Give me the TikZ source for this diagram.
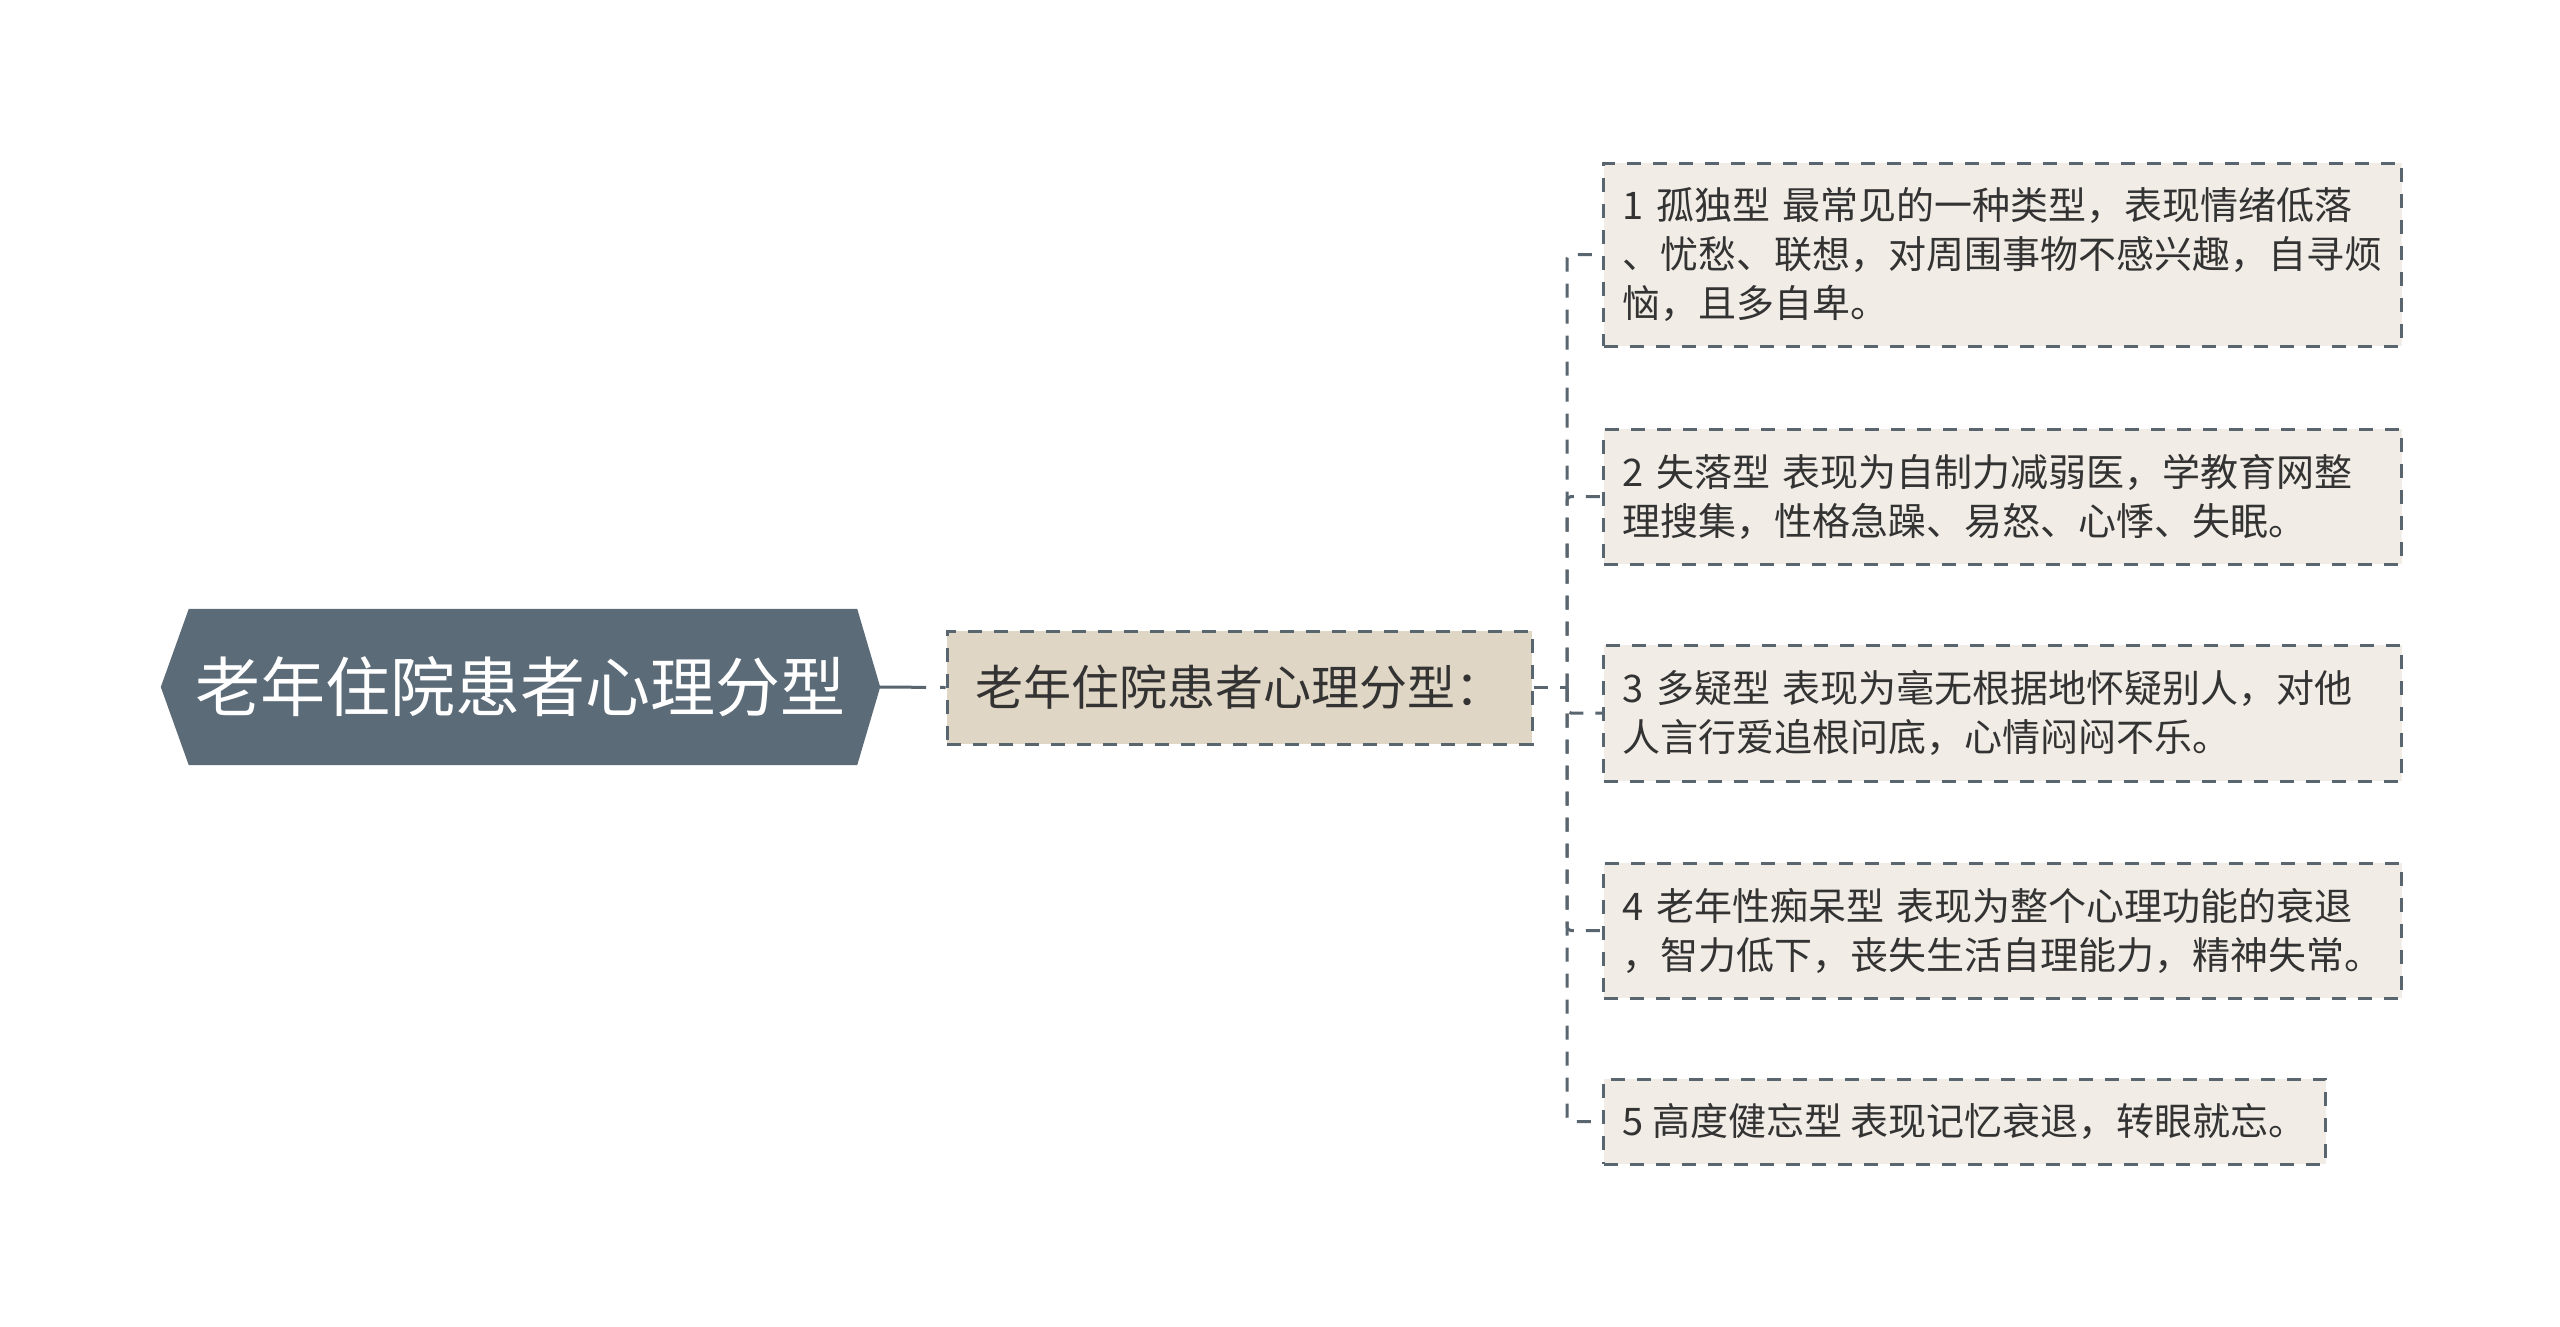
\documentclass[tikz,border=0pt]{standalone}
\usepackage{fontspec}
\newfontfamily\cjkf{Noto Sans CJK SC}
\definecolor{rootfill}{HTML}{5B6B78}
\definecolor{linec}{HTML}{59656F}
\definecolor{subfill}{HTML}{E0D6C5}
\definecolor{leaffill}{HTML}{F1EDE6}
\definecolor{txt}{HTML}{333333}
\begin{document}
\begin{tikzpicture}[x=1pt,y=-1pt,
  rootbox/.style={draw=none, inner sep=0pt, minimum width=719pt, minimum height=156pt,
    text=white, font=\cjkf\fontsize{65pt}{78pt}\selectfont},
  subbox/.style={draw=linec, line width=3pt, dash pattern=on 14pt off 12pt, fill=subfill,
    inner sep=0pt, minimum width=585pt, minimum height=113pt,
    text=txt, font=\cjkf\fontsize{48pt}{58pt}\selectfont},
  leafbox/.style={draw=linec, line width=3pt, dash pattern=on 14pt off 12pt, fill=leaffill,
    inner xsep=19pt, inner ysep=0pt, align=left, anchor=west,
    text=txt, font=\cjkf\fontsize{38pt}{49pt}\selectfont},
  wide/.style={text width=760pt},
  conn/.style={draw=linec, line width=3pt, dash pattern=on 14pt off 12pt, rounded corners=4pt},
]
\useasboundingbox (0,0) rectangle (2560,1326);
\fill[white] (0,0) rectangle (2560,1326);

% root
\node[rootbox] (root) at (520.5,687) {};
\fill[rootfill] (root.west) -- ([xshift=28pt]root.north west) -- ([xshift=-23pt]root.north east)
  -- (root.east) -- ([xshift=-23pt]root.south east) -- ([xshift=28pt]root.south west) -- cycle;
\node[rootbox] (roottext) at (root.center) {老年住院患者心理分型};

% sub
\node[subbox] (sub) at (1239.5,687.5) {老年住院患者心理分型：};

% leaves
\node[leafbox, wide, minimum height=183pt] (l1) at (1602,254.5)
  {1 孤独型 最常见的一种类型，表现情绪低落\\、忧愁、联想，对周围事物不感兴趣，自寻烦\\恼，且多自卑。};
\node[leafbox, wide, minimum height=135pt] (l2) at (1602,496.5)
  {2 失落型 表现为自制力减弱医，学教育网整\\理搜集，性格急躁、易怒、心悸、失眠。};
\node[leafbox, wide, minimum height=136pt] (l3) at (1602,713)
  {3 多疑型 表现为毫无根据地怀疑别人，对他\\人言行爱追根问底，心情闷闷不乐。};
\node[leafbox, wide, minimum height=135pt] (l4) at (1602,930.5)
  {4 老年性痴呆型 表现为整个心理功能的衰退\\，智力低下，丧失生活自理能力，精神失常。};
\node[leafbox, minimum height=85pt] (l5) at (1602,1121.5)
  {5 高度健忘型 表现记忆衰退，转眼就忘。};

% connectors
\draw[conn, dash pattern=on 46pt off 14pt] (root.east) -- (sub.west);
\coordinate (trunk) at (1567,687.5);
\draw[conn] (sub.east) -- (trunk);
\draw[conn] (trunk) |- (l1.west);
\draw[conn] (trunk) |- (l2.west);
\draw[conn] (trunk) |- (l3.west);
\draw[conn] (trunk) |- (l4.west);
\draw[conn] (trunk) |- (l5.west);
\end{tikzpicture}
\end{document}
